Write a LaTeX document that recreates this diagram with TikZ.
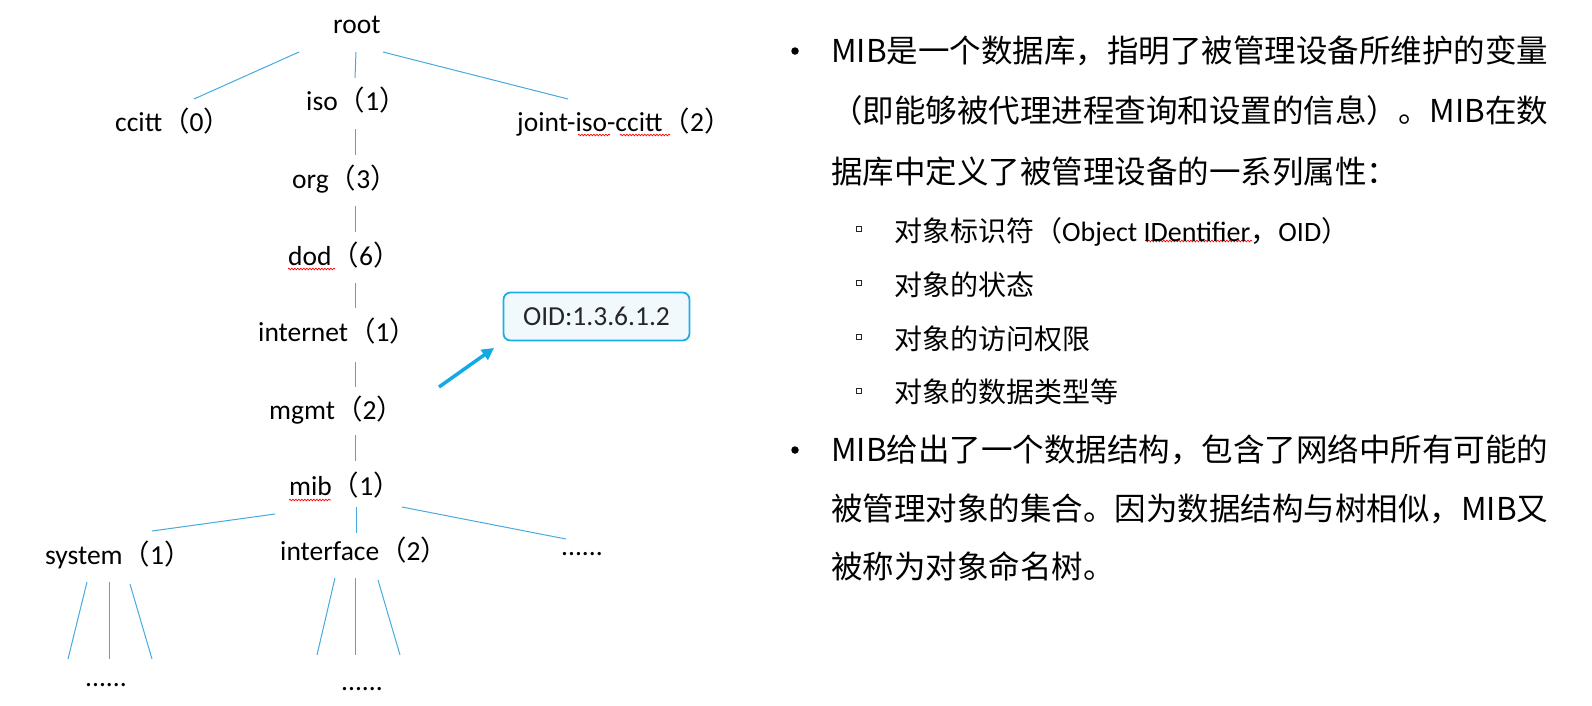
\documentclass[tikz,border=0pt]{standalone}
\usepackage{fontspec}
\setmainfont{Carlito}
\newfontfamily\cjk{Noto Sans CJK SC}
\usetikzlibrary{arrows.meta,decorations.pathmorphing}
\definecolor{treeline}{HTML}{45AADF}
\definecolor{arrowblue}{HTML}{12A9E5}
\definecolor{oidborder}{HTML}{1CAEE8}
\definecolor{oidfill}{HTML}{F2F9FD}
\definecolor{oidtext}{HTML}{262626}
\newcommand{\treelab}[2]{#1{\cjk （}#2{\cjk ）}}
\begin{document}
\begin{tikzpicture}[x=1pt,y=-1pt,
  lab/.style={anchor=base west, inner sep=0pt, font=\fontsize{27.5}{32}\selectfont, text=black},
  edge/.style={draw=treeline, line width=1pt},
  body/.style={anchor=base west, inner sep=0pt, font=\cjk\fontsize{31.5}{36}\selectfont, text=black},
  subtext/.style={anchor=base west, inner sep=0pt, font=\cjk\fontsize{28}{32}\selectfont, text=black},
  bulletdot/.style={circle, fill=black, inner sep=0pt, minimum size=7.5pt},
  subsquare/.style={draw=black!85, line width=0.8pt, inner sep=0pt, minimum width=5.5pt, minimum height=5pt},
  squig/.style={draw=red, line width=0.7pt, decorate, decoration={snake, segment length=3pt, amplitude=0.8pt}},
  oidbox/.style={draw=oidborder, line width=1.8pt, fill=oidfill, rounded corners=7pt, minimum width=186pt, minimum height=48pt, inner sep=0pt, text=oidtext, font=\fontsize{27.5}{32}\selectfont},
  pointer/.style={draw=arrowblue, line width=3.5pt, -{Triangle[length=12pt,width=12pt]}}
]
\useasboundingbox (0,0) rectangle (1592,705);

% ---------- tree labels ----------
\node[lab] (root) at (333,33) {root};
\node[lab] (ccitt) at (115,131) {\treelab{ccitt}{0}};
\node[lab] (iso) at (306,110) {\treelab{iso}{1}};
\node[lab] (joint) at (517,131) {\treelab{joint-iso-ccitt}{2}};
\node[lab] (org) at (292,188) {\treelab{org}{3}};
\node[lab] (dod) at (288,265) {\treelab{dod}{6}};
\node[lab] (internet) at (258,341) {\treelab{internet}{1}};
\node[lab] (mgmt) at (269,419) {\treelab{mgmt}{2}};
\node[lab] (mib) at (289,495) {\treelab{mib}{1}};
\node[lab] (system) at (45,564) {\treelab{system}{1}};
\node[lab] (interface) at (280,560) {\treelab{interface}{2}};
\node[lab] (moredots) at (561,555) {......};
\node[lab] (sysdots) at (85,686) {......};
\node[lab] (ifdots) at (341,690) {......};

% ---------- connector end points ----------
\coordinate (rc1) at (299,52);  \coordinate (rc2) at (194,99);
\coordinate (ri1) at (356,52);  \coordinate (ri2) at (355,78);
\coordinate (rj1) at (383,52);  \coordinate (rj2) at (568,99);
\coordinate (io1) at (355,129); \coordinate (io2) at (355,155);
\coordinate (od1) at (355,206); \coordinate (od2) at (355,232);
\coordinate (di1) at (355,283); \coordinate (di2) at (355,308);
\coordinate (im1) at (355,362); \coordinate (im2) at (355,387);
\coordinate (mm1) at (355,435); \coordinate (mm2) at (355,461);
\coordinate (ms1) at (275,514); \coordinate (ms2) at (152,531);
\coordinate (mi1) at (356,507); \coordinate (mi2) at (356,533);
\coordinate (md1) at (402,507); \coordinate (md2) at (566,539);
\coordinate (sa1) at (87,582);  \coordinate (sa2) at (68,659);
\coordinate (sb1) at (109,582); \coordinate (sb2) at (109,659);
\coordinate (sc1) at (130,584); \coordinate (sc2) at (152,659);
\coordinate (ia1) at (335,578); \coordinate (ia2) at (317,655);
\coordinate (ib1) at (355,578); \coordinate (ib2) at (355,655);
\coordinate (ic1) at (378,580); \coordinate (ic2) at (400,655);

\draw[edge] (rc1) -- (rc2);
\draw[edge] (ri1) -- (ri2);
\draw[edge] (rj1) -- (rj2);
\draw[edge] (io1) -- (io2);
\draw[edge] (od1) -- (od2);
\draw[edge] (di1) -- (di2);
\draw[edge] (im1) -- (im2);
\draw[edge] (mm1) -- (mm2);
\draw[edge] (ms1) -- (ms2);
\draw[edge] (mi1) -- (mi2);
\draw[edge] (md1) -- (md2);
\draw[edge] (sa1) -- (sa2);
\draw[edge] (sb1) -- (sb2);
\draw[edge] (sc1) -- (sc2);
\draw[edge] (ia1) -- (ia2);
\draw[edge] (ib1) -- (ib2);
\draw[edge] (ic1) -- (ic2);

% ---------- OID callout ----------
\node[oidbox] (oid) at (596.5,316.5) {OID:1.3.6.1.2};
\coordinate (arrS) at (439,387);
\coordinate (arrE) at (494,348);
\draw[pointer] (arrS) -- (arrE);

% ---------- spell-check squiggles ----------
\coordinate (q1a) at (288,269); \coordinate (q1b) at (335,269);
\coordinate (q2a) at (289,500); \coordinate (q2b) at (331,500);
\coordinate (q3a) at (578,135); \coordinate (q3b) at (610,135);
\coordinate (q4a) at (620,135); \coordinate (q4b) at (670,135);
\coordinate (q5a) at (1145,241); \coordinate (q5b) at (1252,241);
\draw[squig] (q1a) -- (q1b);
\draw[squig] (q2a) -- (q2b);
\draw[squig] (q3a) -- (q3b);
\draw[squig] (q4a) -- (q4b);
\draw[squig] (q5a) -- (q5b);

% ---------- right-hand text ----------
\node[bulletdot] (b1) at (795,51) {};
\node[body] (l1) at (831,62) {MIB是一个数据库，指明了被管理设备所维护的变量};
\node[body] (l2) at (831,122) {（即能够被代理进程查询和设置的信息）。MIB在数};
\node[body] (l3) at (831,183) {据库中定义了被管理设备的一系列属性：};

\node[subsquare] (s1) at (859,229) {};
\node[subsquare] (s2) at (859,283) {};
\node[subsquare] (s3) at (859,337) {};
\node[subsquare] (s4) at (859,391) {};
\node[subtext] (t1) at (894,241) {对象标识符（{\fontspec{Carlito}Object IDentifier}，{\fontspec{Carlito}OID}）};
\node[subtext] (t2) at (894,295) {对象的状态};
\node[subtext] (t3) at (894,349) {对象的访问权限};
\node[subtext] (t4) at (894,402) {对象的数据类型等};

\node[bulletdot] (b2) at (795,450) {};
\node[body] (m1) at (831,461) {MIB给出了一个数据结构，包含了网络中所有可能的};
\node[body] (m2) at (831,520) {被管理对象的集合。因为数据结构与树相似，MIB又};
\node[body] (m3) at (831,578) {被称为对象命名树。};
\end{tikzpicture}
\end{document}
